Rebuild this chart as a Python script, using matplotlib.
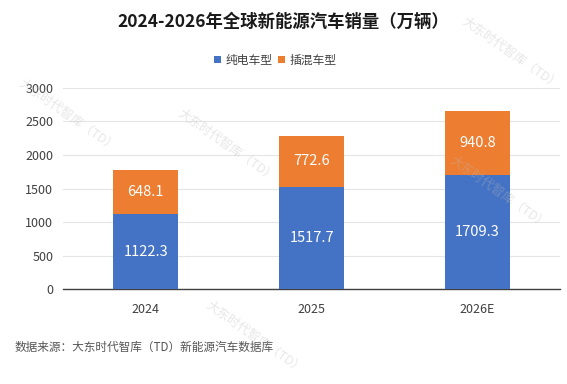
import matplotlib
matplotlib.use("Agg")
import matplotlib.pyplot as plt
import numpy as np

plt.rcParams['font.family'] = ['Noto Sans CJK SC', 'DejaVu Sans']

categories = ["2024", "2025", "2026E"]
bev = [1122.3, 1517.7, 1709.3]
phev = [648.1, 772.6, 940.8]
series_names = ["纯电车型", "插混车型"]
yticks = [0, 500, 1000, 1500, 2000, 2500, 3000]

blue = "#4472C4"
orange = "#ED7D31"

fig = plt.figure(figsize=(5.67, 3.84), dpi=100)
fig.patch.set_facecolor("white")
ax = fig.add_axes([0.111, 0.247, 0.877, 0.524])

x = np.arange(len(categories))
w = 0.39
b1 = ax.bar(x, bev, w, color=blue, label=series_names[0], zorder=3)
b2 = ax.bar(x, phev, w, bottom=bev, color=orange, label=series_names[1], zorder=3)

for rect, v in zip(b1, bev):
    ax.text(rect.get_x() + rect.get_width() / 2, rect.get_y() + rect.get_height() / 2,
            f"{v:.1f}", ha="center", va="center", color="white", fontsize=10.5, zorder=4)
for rect, v in zip(b2, phev):
    ax.text(rect.get_x() + rect.get_width() / 2, rect.get_y() + rect.get_height() / 2,
            f"{v:.1f}", ha="center", va="center", color="white", fontsize=10.5, zorder=4)

ax.set_xlim(-0.5, 2.5)
ax.set_ylim(0, 3000)
ax.set_yticks(yticks)
ax.set_xticks(x)
ax.set_xticklabels(categories)
ax.tick_params(axis="both", length=0, labelsize=9, colors="#404040")
ax.tick_params(axis="y", pad=7)
ax.tick_params(axis="x", pad=10)
ax.grid(axis="y", color="#E5E5E5", linewidth=0.8, zorder=0)
for s in ["top", "right", "left"]:
    ax.spines[s].set_visible(False)
ax.spines["bottom"].set_color("#404040")
ax.spines["bottom"].set_linewidth(1.0)

fig.text(0.5, 0.943, "2024-2026年全球新能源汽车销量（万辆）", ha="center", va="center",
         fontsize=12.5, fontweight="bold", color="#1a1a1a")

leg = fig.legend(handles=[b1, b2], labels=series_names, loc="center", bbox_to_anchor=(0.485, 0.843),
                 ncol=2, frameon=False, fontsize=8.5, handlelength=0.6, handleheight=0.6,
                 columnspacing=0.5, handletextpad=0.35)
for t in leg.get_texts():
    t.set_color("#404040")

fig.text(0.026, 0.096, "数据来源：大东时代智库（TD）新能源汽车数据库", ha="left", va="center",
         fontsize=8.4, color="#555555")

# faint watermarks
wm = "大东时代智库（TD）"
for (px, py) in [(0.12, 0.70), (0.40, 0.62), (0.88, 0.50), (0.90, 0.86), (0.45, 0.12)]:
    fig.text(px, py, wm, rotation=-35, ha="center", va="center", fontsize=9,
             color="#bbbbbb", alpha=0.35, zorder=10)

fig.savefig("out.png", dpi=100, facecolor="white")
